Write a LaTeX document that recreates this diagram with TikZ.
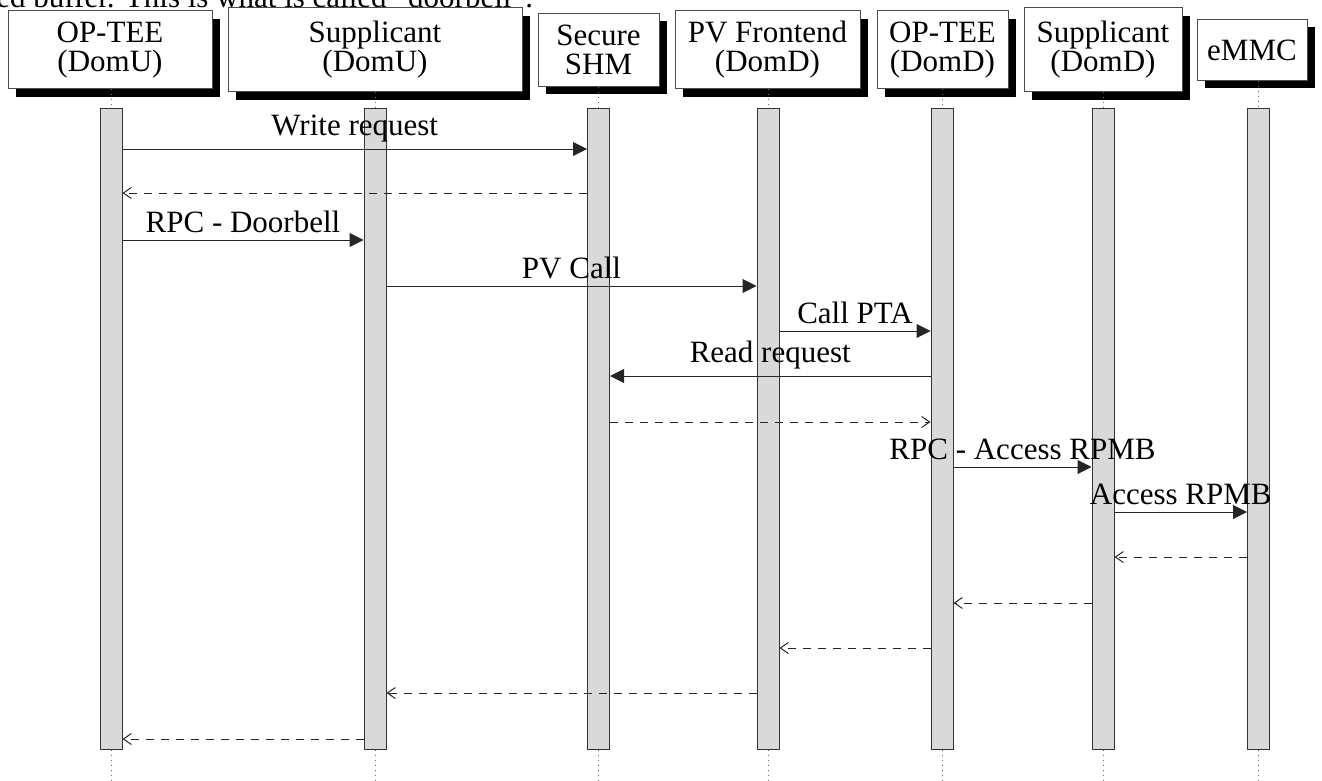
\documentclass[tikz,border=0pt]{standalone}
\usepackage{fontspec}
\setmainfont{Liberation Serif}
\usetikzlibrary{arrows.meta,shadows}

\begin{document}
\begin{tikzpicture}[x=0.5pt,y=-0.5pt,
    every node/.style={font=\fontsize{15.5}{14.5}\selectfont},
    actor/.style={draw=black!70,line width=0.5pt,fill=white,align=center,inner sep=0pt,
      drop shadow={fill=black,opacity=1,shadow xshift=4pt,shadow yshift=-4pt}},
    bar/.style={draw=black!80,line width=0.5pt,fill=black!15,inner sep=0pt,
      minimum width=11pt,minimum height=320pt},
    life/.style={draw=black!60,line width=0.5pt,dash pattern=on 0.5pt off 2pt},
    call/.style={draw=black!85,line width=0.5pt,-{Triangle[length=7pt,width=7pt]}},
    reply/.style={draw=black!85,line width=0.5pt,dash pattern=on 4pt off 3.5pt,
      -{Straight Barb[length=4pt,width=5.5pt]}}]
     \useasboundingbox (0,0) rectangle (1322,781);
     \clip (0,0) rectangle (1322,781);
     % end of the text above, cut by the page
     \node[anchor=base west,inner sep=0pt] (intro) at (-4,8) {ed buffer. This is what is called “doorbell”.};
     % participants
     \node[actor,minimum width=102pt,minimum height=39pt] (opu) at (110,50) {OP-TEE\\(DomU)};
     \node[actor,minimum width=147pt,minimum height=42pt] (supu) at (375,50) {Supplicant\\(DomU)};
     \node[actor,minimum width=60.5pt,minimum height=36.5pt] (shm) at (598.5,50) {Secure\\SHM};
     \node[actor,minimum width=92.5pt,minimum height=39pt] (pvf) at (767.5,50) {PV Frontend\\(DomD)};
     \node[actor,minimum width=65.5pt,minimum height=39pt] (opd) at (942.5,50) {OP-TEE\\(DomD)};
     \node[actor,minimum width=79pt,minimum height=42pt] (supd) at (1103,50) {Supplicant\\(DomD)};
     \node[actor,minimum width=55pt,minimum height=30.5pt] (emmc) at (1252,50) {eMMC};
     % activation bars
     \node[bar] (b1) at (111,429) {};
     \node[bar] (b2) at (375,429) {};
     \node[bar] (b3) at (598.5,429) {};
     \node[bar] (b4) at (768,429) {};
     \node[bar] (b5) at (942,429) {};
     \node[bar] (b6) at (1103,429) {};
     \node[bar] (b7) at (1258.5,429) {};
     % lifelines
     \draw[life] (b1.north |- opu.south) -- (b1.north);
     \draw[life] (b2.north |- supu.south) -- (b2.north);
     \draw[life] (b3.north |- shm.south) -- (b3.north);
     \draw[life] (b4.north |- pvf.south) -- (b4.north);
     \draw[life] (b5.north |- opd.south) -- (b5.north);
     \draw[life] (b6.north |- supd.south) -- (b6.north);
     \draw[life] (b7.north |- emmc.south) -- (b7.north);
     \draw[life] (b1.south) -- (b1.south |- 0,781);
     \draw[life] (b2.south) -- (b2.south |- 0,781);
     \draw[life] (b3.south) -- (b3.south |- 0,781);
     \draw[life] (b4.south) -- (b4.south |- 0,781);
     \draw[life] (b5.south) -- (b5.south |- 0,781);
     \draw[life] (b6.south) -- (b6.south |- 0,781);
     \draw[life] (b7.south) -- (b7.south |- 0,781);
     % messages
     \draw[call] (b1.east |- 0,149) -- node[above] {Write request} (b3.west |- 0,149);
     \draw[reply] (b3.west |- 0,193) -- (b1.east |- 0,193);
     \draw[call] (b1.east |- 0,240) -- node[above] {RPC - Doorbell} (b2.west |- 0,240);
     \draw[call] (b2.east |- 0,286) -- node[above] {PV Call} (b4.west |- 0,286);
     \draw[call] (b4.east |- 0,331) -- node[above] {Call PTA} (b5.west |- 0,331);
     \draw[call] (b5.west |- 0,376) -- node[above] {Read request} (b3.east |- 0,376);
     \draw[reply] (b3.east |- 0,422) -- (b5.west |- 0,422);
     \draw[call] (b5.east |- 0,467) -- node[above] {RPC - Access RPMB} (b6.west |- 0,467);
     \draw[call] (b6.east |- 0,512) -- node[above] {Access RPMB} (b7.west |- 0,512);
     \draw[reply] (b7.west |- 0,557) -- (b6.east |- 0,557);
     \draw[reply] (b6.west |- 0,603) -- (b5.east |- 0,603);
     \draw[reply] (b5.west |- 0,648) -- (b4.east |- 0,648);
     \draw[reply] (b4.west |- 0,693) -- (b2.east |- 0,693);
     \draw[reply] (b2.west |- 0,739) -- (b1.east |- 0,739);
    \end{tikzpicture}
\end{document}
